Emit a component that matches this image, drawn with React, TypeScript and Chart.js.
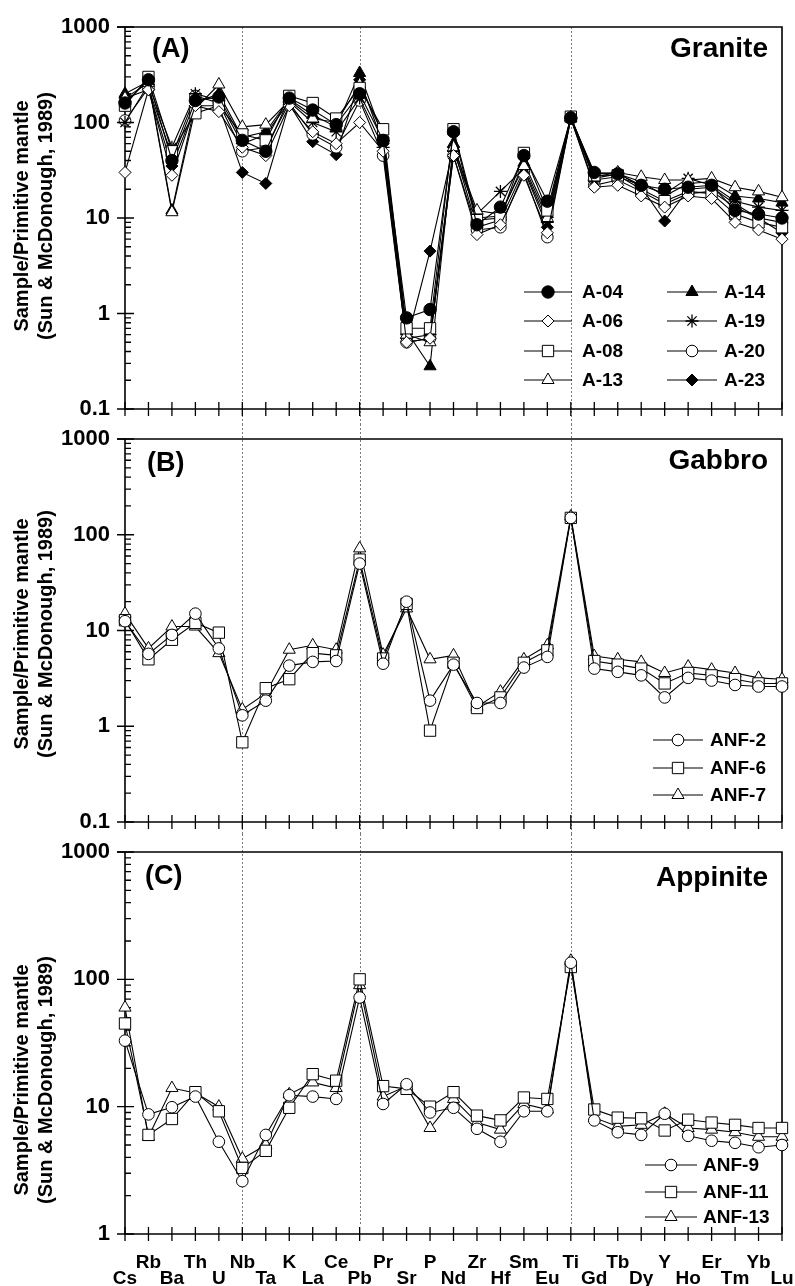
import React, { useEffect, useRef } from 'react';
import { Chart, registerables } from 'chart.js';
import { drawPoint } from 'chart.js/helpers';

Chart.register(...registerables);

const FONT = '"Liberation Sans", Arial, Helvetica, sans-serif';

// ---------- data ----------
const elements = ['Cs', 'Rb', 'Ba', 'Th', 'U', 'Nb', 'Ta', 'K', 'La', 'Ce', 'Pb', 'Pr', 'Sr', 'P', 'Nd', 'Zr', 'Hf', 'Sm', 'Eu', 'Ti', 'Gd', 'Tb', 'Dy', 'Y', 'Ho', 'Er', 'Tm', 'Yb', 'Lu'];
const dividerElements = ['Nb', 'Pb', 'Ti'];
const ticksWide = [0.1, 1, 10, 100, 1000];
const ticksNarrow = [1, 10, 100, 1000];

const graniteNames = ['A-04', 'A-06', 'A-08', 'A-13', 'A-14', 'A-19', 'A-20', 'A-23'];
const a04 = [160, 280, 40, 170, 185, 65, 50, 180, 135, 95, 200, 65, 0.9, 1.1, 80, 8.5, 13, 45, 15, 112, 30, 29, 22, 20, 21, 22, 12, 11, 10];
const a06 = [30, 220, 28, 150, 130, 55, 45, 150, 80, 60, 100, 50, 0.5, 0.55, 45, 6.7, 8.5, 28, 7, 110, 21, 22, 17, 13, 17, 16, 9, 7.5, 6];
const a08 = [150, 300, 50, 125, 150, 75, 65, 190, 160, 110, 230, 85, 0.7, 0.7, 85, 9.5, 10, 48, 12, 115, 28, 28, 20, 15, 19, 18, 11, 9, 8];
const a13 = [180, 260, 11.5, 140, 250, 90, 95, 170, 110, 100, 250, 75, 0.6, 0.5, 55, 12, 11, 35, 10, 113, 27, 30, 27, 25, 25, 26, 21, 19, 16.5];
const a14 = [200, 270, 12, 160, 200, 70, 80, 175, 120, 90, 330, 70, 0.65, 0.28, 60, 10, 10.5, 38, 11, 112, 26, 29, 24, 17, 23, 24, 17, 16, 14.5];
const a19 = [100, 250, 55, 200, 170, 60, 75, 165, 100, 80, 180, 55, 0.55, 0.6, 50, 11, 19, 33, 9, 110, 25, 27, 22, 18, 26, 22, 15, 13, 12];
const a20 = [105, 230, 45, 190, 160, 50, 55, 160, 75, 55, 170, 45, 0.5, 0.55, 45, 7.5, 8, 30, 6.3, 110, 22, 25, 19, 14, 18, 19, 13, 10, 9];
const a23 = [180, 220, 35, 150, 150, 30, 23, 155, 63, 46, 280, 60, 0.5, 4.5, 55, 8, 9.5, 32, 8, 112, 29, 30, 21, 9.3, 20, 21, 14, 10, 7];

const gabbroNames = ['ANF-2', 'ANF-6', 'ANF-7'];
const anf2 = [12.5, 5.7, 9, 15, 6.5, 1.3, 1.85, 4.3, 4.7, 4.8, 50, 4.5, 20, 1.85, 4.4, 1.75, 1.75, 4.1, 5.3, 150, 4.0, 3.7, 3.4, 2.0, 3.2, 3.0, 2.7, 2.6, 2.6];
const anf6 = [12.8, 5.0, 8, 12, 9.5, 0.68, 2.5, 3.1, 5.8, 5.5, 55, 5.1, 19, 0.9, 4.6, 1.55, 2.0, 4.6, 6.2, 150, 4.8, 4.4, 4.0, 2.8, 3.6, 3.4, 3.1, 2.8, 2.8];
const anf7 = [15, 6.5, 11, 11, 5.8, 1.5, 2.2, 6.3, 7, 6.3, 72, 5.6, 17, 5, 5.5, 1.6, 2.3, 5.0, 7, 155, 5.4, 5.0, 4.7, 3.6, 4.2, 3.9, 3.6, 3.2, 3.1];

const appiniteNames = ['ANF-9', 'ANF-11', 'ANF-13'];
const anf9 = [33, 8.7, 9.9, 12, 5.3, 2.6, 6.0, 12.3, 12, 11.5, 72, 10.5, 15, 9, 9.8, 6.7, 5.3, 9.2, 9.2, 135, 7.8, 6.3, 6.0, 8.8, 5.9, 5.4, 5.2, 4.8, 5.0];
const anf11 = [45, 6.0, 8, 13, 9.2, 3.3, 4.5, 9.8, 18, 16, 100, 14.5, 13.8, 10, 13, 8.5, 7.8, 11.8, 11.5, 125, 9.5, 8.2, 8.1, 6.5, 7.9, 7.5, 7.2, 6.8, 6.8];
const anf13 = [60, 5.8, 14, 12.8, 10, 3.9, 5.0, 12.5, 15.5, 14, 90, 12, 14.5, 6.8, 11.5, 7.5, 6.6, 10.5, 9.5, 140, 8.2, 7.0, 7.2, 8.8, 6.8, 6.6, 6.3, 5.8, 5.8];

// ---------- styles ----------
type Marker = { pointStyle: string; radius: number; filled: boolean };
const MK: Record<string, Marker> = {
  circleF: { pointStyle: 'circle', radius: 6.2, filled: true },
  circleO: { pointStyle: 'circle', radius: 5.8, filled: false },
  diamondO: { pointStyle: 'rectRot', radius: 6, filled: false },
  diamondF: { pointStyle: 'rectRot', radius: 6, filled: true },
  squareO: { pointStyle: 'rect', radius: 8, filled: false },
  triO: { pointStyle: 'triangle', radius: 7, filled: false },
  triF: { pointStyle: 'triangle', radius: 7, filled: true },
  star: { pointStyle: 'star', radius: 6.5, filled: false },
};

type LegendCol = { x0: number; x1: number; mx: number; tx: number };
type PanelCfg = {
  key: string;
  top: number;
  h: number;
  padTop: number;
  xH: number;
  min: number;
  max: number;
  ticks: number[];
  xLabels: boolean;
  letter: string;
  letterX: number;
  letterY: number;
  rock: string;
  rockY: number;
  titleY: number;
  dotFrom: 'area' | 'canvas';
  dotTo: 'area' | 'canvas';
  names: string[];
  series: number[][];
  markers: Marker[];
  legendCols: LegendCol[];
  legendRows: number[];
};

const panels: PanelCfg[] = [
  {
    key: 'A', top: 0, h: 424, padTop: 27, xH: 15, min: 0.1, max: 1000, ticks: ticksWide, xLabels: false,
    letter: '(A)', letterX: 152, letterY: 50, rock: 'Granite', rockY: 49, titleY: 216,
    dotFrom: 'area', dotTo: 'canvas',
    names: graniteNames, series: [a04, a06, a08, a13, a14, a19, a20, a23],
    markers: [MK.circleF, MK.diamondO, MK.squareO, MK.triO, MK.triF, MK.star, MK.circleO, MK.diamondF],
    legendCols: [{ x0: 524, x1: 572, mx: 548, tx: 582 }, { x0: 667, x1: 717, mx: 692, tx: 724 }],
    legendRows: [292, 321, 351, 380],
  },
  {
    key: 'B', top: 424, h: 410, padTop: 15, xH: 12, min: 0.1, max: 1000, ticks: ticksWide, xLabels: false,
    letter: '(B)', letterX: 147, letterY: 40, rock: 'Gabbro', rockY: 37, titleY: 210,
    dotFrom: 'canvas', dotTo: 'canvas',
    names: gabbroNames, series: [anf2, anf6, anf7],
    markers: [MK.circleO, MK.squareO, MK.triO],
    legendCols: [{ x0: 653, x1: 703, mx: 678, tx: 710 }],
    legendRows: [316, 344, 371],
  },
  {
    key: 'C', top: 834, h: 452, padTop: 18, xH: 52, min: 1, max: 1000, ticks: ticksNarrow, xLabels: true,
    letter: '(C)', letterX: 145, letterY: 43, rock: 'Appinite', rockY: 44, titleY: 246,
    dotFrom: 'canvas', dotTo: 'area',
    names: appiniteNames, series: [anf9, anf11, anf13],
    markers: [MK.circleO, MK.squareO, MK.triO],
    legendCols: [{ x0: 645, x1: 697, mx: 671, tx: 703 }],
    legendRows: [331, 358, 383],
  },
];

const titleLines = ['Sample/Primitive mantle', '(Sun & McDonough, 1989)'];

function makeDecor(cfg: PanelCfg) {
  return {
    id: 'decor' + cfg.key,
    beforeDatasetsDraw(chart: any) {
      const { ctx, chartArea } = chart;
      const { left, right, top, bottom } = chartArea;
      const x = chart.scales.x;
      const y = chart.scales.y;
      const H = chart.height;
      ctx.save();
      // dotted dividers
      ctx.strokeStyle = '#7a7a7a';
      ctx.lineWidth = 1;
      ctx.setLineDash([2, 2]);
      const y0 = cfg.dotFrom === 'area' ? top : 0;
      const y1 = cfg.dotTo === 'area' ? bottom - 9 : H;
      for (const el of dividerElements) {
        const px = Math.round(x.getPixelForValue(elements.indexOf(el))) + 0.5;
        ctx.beginPath();
        ctx.moveTo(px, y0);
        ctx.lineTo(px, y1);
        ctx.stroke();
      }
      ctx.setLineDash([]);
      // frame
      ctx.strokeStyle = '#000';
      ctx.lineWidth = 1.6;
      ctx.beginPath();
      ctx.moveTo(left - 8, top);
      ctx.lineTo(right, top);
      ctx.lineTo(right, bottom);
      ctx.moveTo(left, top);
      ctx.lineTo(left, bottom);
      ctx.lineTo(right, bottom);
      ctx.stroke();
      // y ticks
      ctx.lineWidth = 1.3;
      ctx.beginPath();
      for (const v of cfg.ticks) {
        const py = y.getPixelForValue(v);
        ctx.moveTo(left - 8, py);
        ctx.lineTo(left + 9, py);
      }
      for (let d = cfg.min; d < cfg.max * 0.999; d *= 10) {
        for (let k = 2; k <= 9; k++) {
          const py = y.getPixelForValue(d * k);
          ctx.moveTo(left, py);
          ctx.lineTo(left + 6, py);
        }
      }
      // x ticks
      for (let i = 0; i < elements.length; i++) {
        const px = x.getPixelForValue(i);
        ctx.moveTo(px, bottom - 7);
        ctx.lineTo(px, bottom + 7);
      }
      ctx.stroke();
      ctx.restore();
    },
    afterDatasetsDraw(chart: any) {
      const { ctx } = chart;
      ctx.save();
      ctx.fillStyle = '#000';
      // y title
      ctx.font = `bold 20px ${FONT}`;
      ctx.textAlign = 'center';
      ctx.textBaseline = 'middle';
      [22, 46].forEach((cx, i) => {
        ctx.save();
        ctx.translate(cx, cfg.titleY);
        ctx.rotate(-Math.PI / 2);
        ctx.fillText(titleLines[i], 0, 0);
        ctx.restore();
      });
      // panel letter
      ctx.font = `bold 27px ${FONT}`;
      ctx.textAlign = 'left';
      ctx.fillText(cfg.letter, cfg.letterX, cfg.letterY);
      // rock name
      ctx.font = `bold 28px ${FONT}`;
      ctx.textAlign = 'right';
      ctx.fillText(cfg.rock, 768, cfg.rockY);
      // legend
      const perCol = cfg.legendRows.length;
      chart.data.datasets.forEach((ds: any, i: number) => {
        const col = cfg.legendCols[Math.floor(i / perCol)];
        const ly = cfg.legendRows[i % perCol];
        if (!col) return;
        ctx.strokeStyle = '#000';
        ctx.lineWidth = 1.2;
        ctx.beginPath();
        ctx.moveTo(col.x0, ly);
        ctx.lineTo(col.x1, ly);
        ctx.stroke();
        const m = cfg.markers[i];
        ctx.fillStyle = m.filled ? '#000' : '#fff';
        ctx.strokeStyle = '#000';
        ctx.lineWidth = m.pointStyle === 'star' ? 1.3 : 1;
        drawPoint(ctx, { pointStyle: m.pointStyle, radius: m.radius, rotation: 0, borderWidth: ctx.lineWidth } as any, col.mx, ly);
        ctx.fillStyle = '#000';
        ctx.font = `bold 19px ${FONT}`;
        ctx.textAlign = 'left';
        ctx.textBaseline = 'middle';
        ctx.fillText(ds.label, col.tx, ly + 1);
      });
      ctx.restore();
    },
  };
}

function Panel({ cfg }: { cfg: PanelCfg }) {
  const ref = useRef<HTMLCanvasElement>(null);
  useEffect(() => {
    if (!ref.current) return;
    const datasets = cfg.series.map((data, i) => {
      const m = cfg.markers[i];
      return {
        label: cfg.names[i],
        data,
        borderColor: '#000',
        borderWidth: 1.1,
        backgroundColor: '#000',
        pointStyle: m.pointStyle as any,
        pointRadius: m.radius,
        pointHoverRadius: m.radius,
        pointBackgroundColor: m.filled ? '#000' : '#fff',
        pointBorderColor: '#000',
        pointBorderWidth: m.pointStyle === 'star' ? 1.3 : 1,
        tension: 0,
        clip: false as any,
      };
    });
    const chart = new Chart(ref.current, {
      type: 'line',
      data: { labels: elements, datasets },
      plugins: [makeDecor(cfg)],
      options: {
        animation: false,
        responsive: false,
        devicePixelRatio: 1,
        events: [],
        layout: { padding: { top: cfg.padTop, right: 13, left: 0, bottom: 0 } },
        plugins: { legend: { display: false }, tooltip: { enabled: false }, title: { display: false } },
        scales: {
          x: {
            type: 'category',
            offset: false,
            grid: { display: false, drawTicks: true, tickLength: 21 },
            border: { display: false },
            ticks: cfg.xLabels
              ? {
                  display: true,
                  autoSkip: false,
                  maxRotation: 0,
                  minRotation: 0,
                  padding: 0,
                  color: '#000',
                  font: { family: FONT, size: 19, weight: 'bold', lineHeight: '16px' as any },
                  callback: (_v: any, i: number) => (i % 2 === 0 ? ['', elements[i]] : [elements[i]]),
                }
              : { display: false },
            afterFit: (s: any) => {
              s.height = cfg.xH;
            },
          },
          y: {
            type: 'logarithmic',
            min: cfg.min,
            max: cfg.max,
            grid: { display: false, drawTicks: true, tickLength: 15 },
            border: { display: false },
            afterBuildTicks: (s: any) => {
              s.ticks = cfg.ticks.map((v) => ({ value: v }));
            },
            ticks: {
              padding: 0,
              color: '#000',
              font: { family: FONT, size: 22, weight: 'bold', lineHeight: 1 },
              callback: (v: any) => String(v),
            },
            afterFit: (s: any) => {
              s.width = 125;
            },
          },
        },
      } as any,
    });
    return () => chart.destroy();
  }, [cfg]);
  return (
    <canvas
      ref={ref}
      width={795}
      height={cfg.h}
      style={{ position: 'absolute', left: 0, top: cfg.top, width: 795, height: cfg.h, display: 'block' }}
    />
  );
}

export default function App() {
  return (
    <div style={{ position: 'absolute', left: 0, top: 0, width: 795, height: 1286, background: '#fff', overflow: 'hidden' }}>
      {panels.map((p) => (
        <Panel key={p.key} cfg={p} />
      ))}
    </div>
  );
}
